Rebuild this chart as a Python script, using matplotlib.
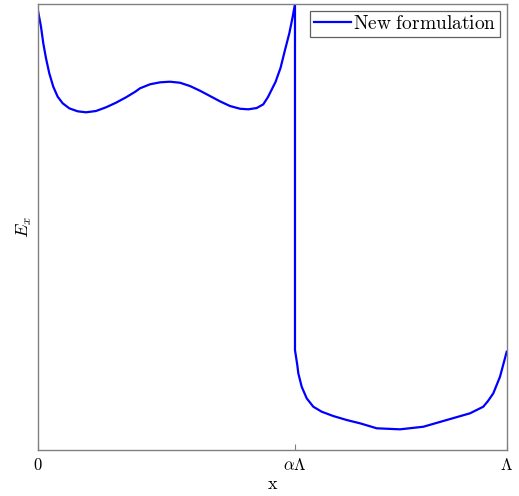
import numpy as np
import matplotlib.pyplot as plt

plt.rcParams['mathtext.fontset'] = 'cm'
plt.rcParams['font.family'] = 'serif'
plt.rcParams['font.serif'] = ['DejaVu Serif']

# field, x in units of Lambda, E_x in arbitrary units
alpha = 0.548
x_left = [0.0, 0.0064, 0.0113, 0.0171, 0.0241, 0.0326, 0.042, 0.0527, 0.0668,
          0.0847, 0.1024, 0.1237, 0.1451, 0.1664, 0.1878, 0.2076, 0.2176, 0.239,
          0.2603, 0.2816, 0.303, 0.3243, 0.3456, 0.367, 0.3883, 0.4097, 0.431,
          0.4487, 0.4666, 0.4807, 0.4907, 0.5067, 0.5174, 0.527, 0.5362, 0.5434,
          0.5483]
e_left = [0.985, 0.9491, 0.9119, 0.8783, 0.8446, 0.8146, 0.7922, 0.7774, 0.7661,
          0.7594, 0.7572, 0.7601, 0.7684, 0.7787, 0.7908, 0.8034, 0.811, 0.82,
          0.8244, 0.8258, 0.8235, 0.8161, 0.8056, 0.7937, 0.7818, 0.7713, 0.7652,
          0.7639, 0.7668, 0.7751, 0.7915, 0.8251, 0.8565, 0.8969, 0.9343, 0.9715,
          1.0]
x_right = [0.5483, 0.5483, 0.5532, 0.5554, 0.5626, 0.5733, 0.5874, 0.6053, 0.63,
           0.6586, 0.687, 0.7227, 0.7724, 0.8221, 0.872, 0.9217, 0.95, 0.9601,
           0.9714, 0.9857, 1.0]
e_right = [1.0, 0.2242, 0.1906, 0.172, 0.1419, 0.1159, 0.0971, 0.0859, 0.0762,
           0.0673, 0.0599, 0.0487, 0.0464, 0.0522, 0.0673, 0.0823, 0.0971, 0.1099,
           0.1271, 0.1643, 0.2204]
tick_pos = [0, alpha, 1]
tick_lab = [r'$0$', r'$\alpha\Lambda$', r'$\Lambda$']

fig = plt.figure(figsize=(5.19, 4.96), dpi=100)
ax = fig.add_axes([0.0732, 0.0927, 0.9031, 0.8992])

x = np.array(x_left + x_right)
e = np.array(e_left + e_right)
ax.plot(x, e, color='blue', lw=1.6, label=r'$\mathrm{New\ formulation}$')

ax.set_xlim(0, 1)
ax.set_ylim(0, 1)
ax.set_xticks(tick_pos)
ax.set_xticklabels(tick_lab, fontsize=12)
ax.set_yticks([])
ax.tick_params(axis='x', direction='in', length=4, color='#808080', pad=5)
for s in ax.spines.values():
    s.set_color('#808080')
    s.set_linewidth(1.0)

ax.set_xlabel(r'$\mathrm{x}$', fontsize=13, labelpad=1)
ax.set_ylabel(r'$E_x$', fontsize=13, labelpad=3)

leg = ax.legend(loc='upper right', fontsize=14, fancybox=False, framealpha=1,
                handlelength=1.9, handletextpad=0.1, borderpad=0.2,
                borderaxespad=0.35)
leg.get_frame().set_edgecolor('#606060')
leg.get_frame().set_linewidth(0.9)

plt.savefig('out.png', dpi=100)
